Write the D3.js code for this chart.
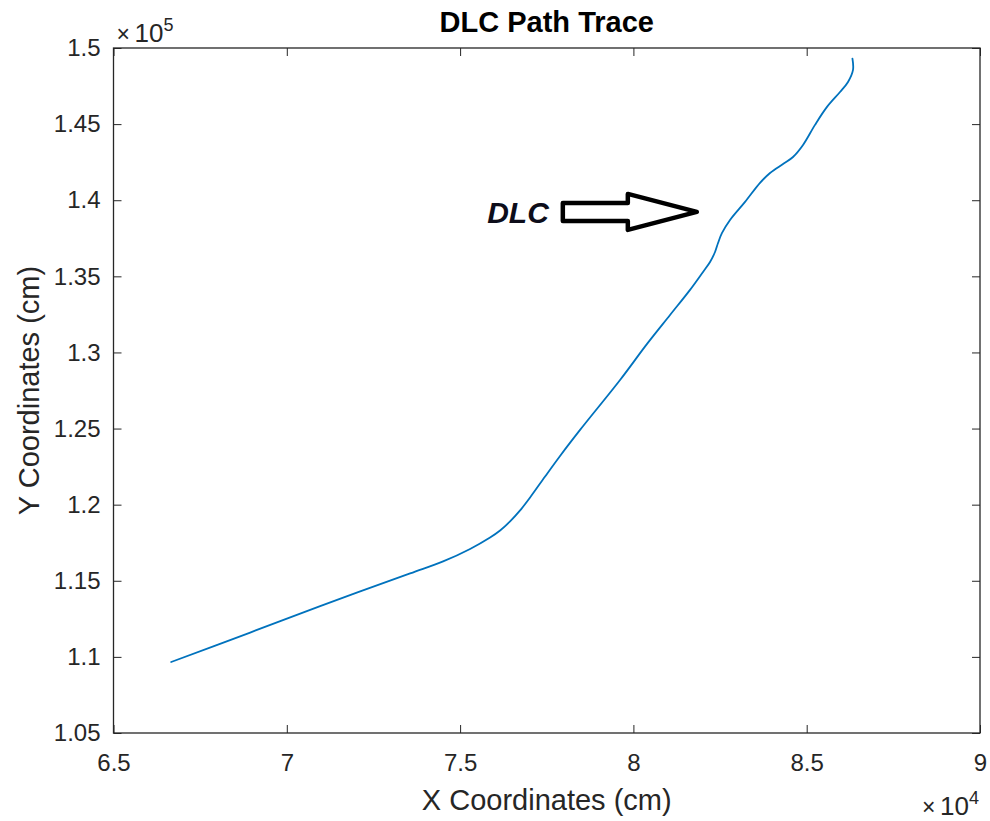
<!DOCTYPE html>
<html>
<head>
<meta charset="utf-8">
<script src="https://cdn.jsdelivr.net/npm/d3@7"></script>
<style>
  html, body { margin: 0; padding: 0; background: #fff; }
  svg { display: block; }
  text { font-family: "Liberation Sans", Arial, Helvetica, sans-serif; }
</style>
</head>
<body>
<svg id="chart" width="990" height="821"></svg>
<script>
// Trajectory samples (cm)
const pathX = [66664, 68943, 70962, 73558, 74510, 75288, 75865, 76154, 76442, 76731,
               77019, 77452, 77884, 78461, 79615, 80394, 81057, 81634, 82009, 82211,
               82355, 82442, 82557, 82788, 83221, 83653, 83942, 84317, 84605, 84894,
               85240, 85586, 85961, 86192, 86336, 86320];
const pathY = [109665, 111600, 113340, 115480, 116270, 117090, 117840, 118300, 118900, 119620,
               120470, 121850, 123200, 124910, 128190, 130560, 132460, 134110, 135290, 135940,
               136600, 137190, 137850, 138700, 139890, 141140, 141790, 142380, 142840, 143630,
               144950, 146130, 147110, 147770, 148560, 149300];

// Axis ticks
const xTicks = [65000, 70000, 75000, 80000, 85000, 90000];
const yTicks = [105000, 110000, 115000, 120000, 125000, 130000, 135000, 140000, 145000, 150000];

const titleText = "DLC Path Trace";
const xLabel = "X Coordinates (cm)";
const yLabel = "Y Coordinates (cm)";
const calloutText = "DLC";

const svg = d3.select("#chart");
const margin = { left: 113.5, right: 10, top: 48, bottom: 88 };
const W = 990, H = 821;
const axisColor = "#262626";

const x = d3.scaleLinear().domain([65000, 90000]).range([margin.left, W - margin.right]);
const y = d3.scaleLinear().domain([105000, 150000]).range([H - margin.bottom, margin.top]);

const x0 = x.range()[0], x1 = x.range()[1];
const y0 = y.range()[0], y1 = y.range()[1];

const fmtX = d => String(+(d / 1e4).toFixed(2));
const fmtY = d => String(+(d / 1e5).toFixed(2));

function styleAxis(g) {
  g.select(".domain").remove();
  g.selectAll(".tick line").attr("stroke", axisColor).attr("stroke-width", 1);
  g.selectAll(".tick text").attr("fill", axisColor).attr("font-size", 24);
}

// bottom axis with labels
svg.append("g").attr("transform", `translate(0,${y0})`)
  .call(d3.axisBottom(x).tickValues(xTicks).tickFormat(fmtX).tickSize(-8).tickPadding(21))
  .call(styleAxis);
// top mirror ticks
svg.append("g").attr("transform", `translate(0,${y1})`)
  .call(d3.axisTop(x).tickValues(xTicks).tickFormat("").tickSize(-8))
  .call(styleAxis);
// left axis with labels
svg.append("g").attr("transform", `translate(${x0},0)`)
  .call(d3.axisLeft(y).tickValues(yTicks).tickFormat(fmtY).tickSize(-8).tickPadding(13))
  .call(styleAxis);
// right mirror ticks
svg.append("g").attr("transform", `translate(${x1},0)`)
  .call(d3.axisRight(y).tickValues(yTicks).tickFormat("").tickSize(-8))
  .call(styleAxis);

// plot box
svg.append("rect")
  .attr("x", x0).attr("y", y1)
  .attr("width", x1 - x0).attr("height", y0 - y1)
  .attr("fill", "none").attr("stroke", axisColor).attr("stroke-width", 1.3);

// trajectory
const pts = pathX.map((v, i) => [v, pathY[i]]);
svg.append("path")
  .datum(pts)
  .attr("fill", "none")
  .attr("stroke", "#0072BD")
  .attr("stroke-width", 1.8)
  .attr("stroke-linejoin", "round")
  .attr("stroke-linecap", "round")
  .attr("d", d3.line().x(d => x(d[0])).y(d => y(d[1])).curve(d3.curveCatmullRom.alpha(0.5)));

// exponent markers (×10^n)
function exponent(xStart, baseY, power) {
  const g = svg.append("g").attr("fill", axisColor);
  g.append("text").attr("x", xStart).attr("y", baseY).attr("font-size", 23).text("\u00d7");
  g.append("text").attr("x", xStart + 18).attr("y", baseY).attr("font-size", 26).text("10");
  g.append("text").attr("x", xStart + 47).attr("y", baseY - 11).attr("font-size", 18).text(power);
}
exponent(x0 + 3, 42, "5");
exponent(x1 - 58, 815, "4");

// title and axis labels
svg.append("text")
  .attr("x", (x0 + x1) / 2).attr("y", 32)
  .attr("text-anchor", "middle").attr("font-weight", "bold").attr("font-size", 29)
  .attr("fill", "#000").text(titleText);

svg.append("text")
  .attr("x", (x0 + x1) / 2).attr("y", 810)
  .attr("text-anchor", "middle").attr("font-size", 29)
  .attr("fill", axisColor).text(xLabel);

svg.append("text")
  .attr("transform", `translate(39,${(y0 + y1) / 2}) rotate(-90)`)
  .attr("text-anchor", "middle").attr("font-size", 29)
  .attr("fill", axisColor).text(yLabel);

// callout: label and block arrow pointing at the lane change
const tipX = x(81830), tipY = y(139230);
const shaftLen = 134, headLen = 69, shaftHalf = 9, headHalf = 18;
const arrowPts = [
  [tipX - shaftLen, tipY - shaftHalf],
  [tipX - headLen, tipY - shaftHalf],
  [tipX - headLen, tipY - headHalf],
  [tipX, tipY],
  [tipX - headLen, tipY + headHalf],
  [tipX - headLen, tipY + shaftHalf],
  [tipX - shaftLen, tipY + shaftHalf]
];
svg.append("polygon")
  .attr("points", arrowPts.map(p => p.join(",")).join(" "))
  .attr("fill", "#fff").attr("stroke", "#000").attr("stroke-width", 4.5)
  .attr("stroke-linejoin", "round");

svg.append("text")
  .attr("x", tipX - shaftLen - 14).attr("y", tipY + 11)
  .attr("text-anchor", "end")
  .attr("font-family", "Lato, 'Open Sans', sans-serif")
  .attr("font-weight", "bold").attr("font-style", "italic").attr("font-size", 30)
  .attr("fill", "#0d0d1a").text(calloutText);
</script>
</body>
</html>
